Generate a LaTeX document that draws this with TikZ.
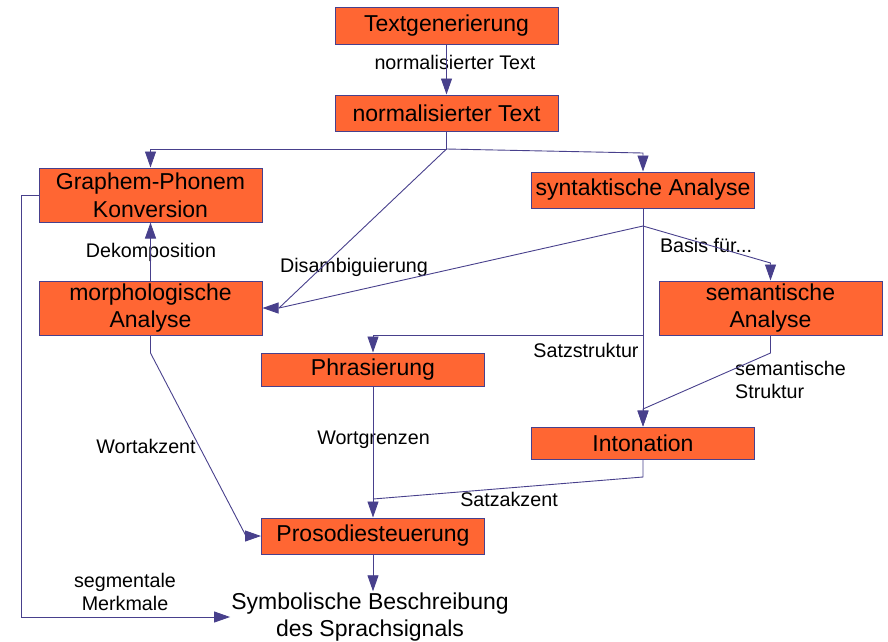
\documentclass[tikz,border=0pt]{standalone}
\usepackage{fontspec}
\setmainfont{Liberation Sans}
\usetikzlibrary{arrows.meta}
\definecolor{boxfill}{RGB}{255,102,51}
\definecolor{linecol}{RGB}{72,64,140}
\tikzset{
  stage/.style={draw=linecol, line width=1pt, fill=boxfill, inner sep=0pt, align=center,
    minimum width=223pt, font=\fontsize{23}{27.6}\selectfont},
  lbl/.style={inner sep=1pt, align=center, font=\fontsize{19.7}{23.6}\selectfont},
  conn/.style={draw=linecol, line width=0.9pt},
  arr/.style={conn, -{Triangle[length=16pt,width=11pt]}},
}
\begin{document}
\begin{tikzpicture}[x=1pt,y=-1pt]
\useasboundingbox (0,0) rectangle (888,641);
% boxes
\node[stage, minimum height=37pt] (tg) at (446.5,25.5) {Textgenerierung};
\node[stage, minimum height=36pt] (nt) at (446.5,113) {normalisierter Text};
\node[stage, minimum height=54pt] (gp) at (150.5,195) {Graphem-Phonem\\Konversion};
\node[stage, minimum height=36pt] (sa) at (643,190) {syntaktische Analyse};
\node[stage, minimum height=54pt] (ma) at (150.5,308) {morphologische\\Analyse};
\node[stage, minimum height=54pt] (sem) at (770.5,308) {semantische\\Analyse};
\node[stage, minimum height=33pt] (ph) at (373,369.5) {Phrasierung};
\node[stage, minimum height=32pt] (in) at (643,443) {Intonation};
\node[stage, minimum height=36pt] (pr) at (373,536) {Prosodiesteuerung};
\node[inner sep=1pt, align=center, font=\fontsize{23}{27.6}\selectfont] (sym) at (370,617)
  {Symbolische Beschreibung\\des Sprachsignals};
% labels
\node[lbl] (l1) at (455,62) {normalisierter Text};
\node[lbl] (l2) at (151,252) {Dekomposition};
\node[lbl] (l3) at (354,267) {Disambiguierung};
\node[lbl] (l4) at (706,245) {Basis für...};
\node[lbl] (l5) at (586,350) {Satzstruktur};
\node[lbl, anchor=west, align=left] (l6) at (734,380) {semantische\\Struktur};
\node[lbl] (l7) at (373.5,440) {Wortgrenzen};
\node[lbl] (l8) at (146,446) {Wortakzent};
\node[lbl] (l9) at (509,499) {Satzakzent};
\node[lbl] (l10) at (125,592) {segmentale\\Merkmale};
% junction coordinates
\coordinate (j1) at (446.5,149);
\coordinate (j1r) at (643,153);
\coordinate (mtip) at (279,308);
\coordinate (j2) at (643,226);
\coordinate (j2r) at (770.5,263);
\coordinate (j3) at (643,335);
\coordinate (s1) at (770.5,353);
\coordinate (s2) at (643,409);
\coordinate (i1) at (643,477);
\coordinate (j4) at (373,499);
\coordinate (m2) at (150.5,353);
\coordinate (m3) at (246,536);
% connectors
\draw[arr] (tg) -- (nt);
\draw[conn] (nt.south) -- (j1);
\draw[arr] (j1) -- (gp.north |- j1) -- (gp.north);
\draw[arr] (j1) -- (j1r) -- (sa.north);
\draw[arr] (j1) -- (mtip) -- (ma.east);
\draw[conn] (j2) -- (mtip);
\draw[arr] (ma.north) -- (gp.south);
\draw[arr] (sa.south) -- (in.north);
\draw[arr] (j2) -- (j2r) -- (sem.north);
\draw[arr] (j3) -- (ph.north |- j3) -- (ph.north);
\draw[arr] (sem.south) -- (s1) -- (s2) -- (in.north);
\draw[arr] (ph.south) -- (pr.north);
\draw[conn] (in.south) -- (i1) -- (j4);
\draw[arr] (ma.south) -- (m2) -- (m3) -- (pr.west);
\draw[arr] (gp.west) -- ++(-17,0) |- (sym.west);
\draw[arr] (pr.south) -- (pr.south |- sym.north);
\end{tikzpicture}
\end{document}
